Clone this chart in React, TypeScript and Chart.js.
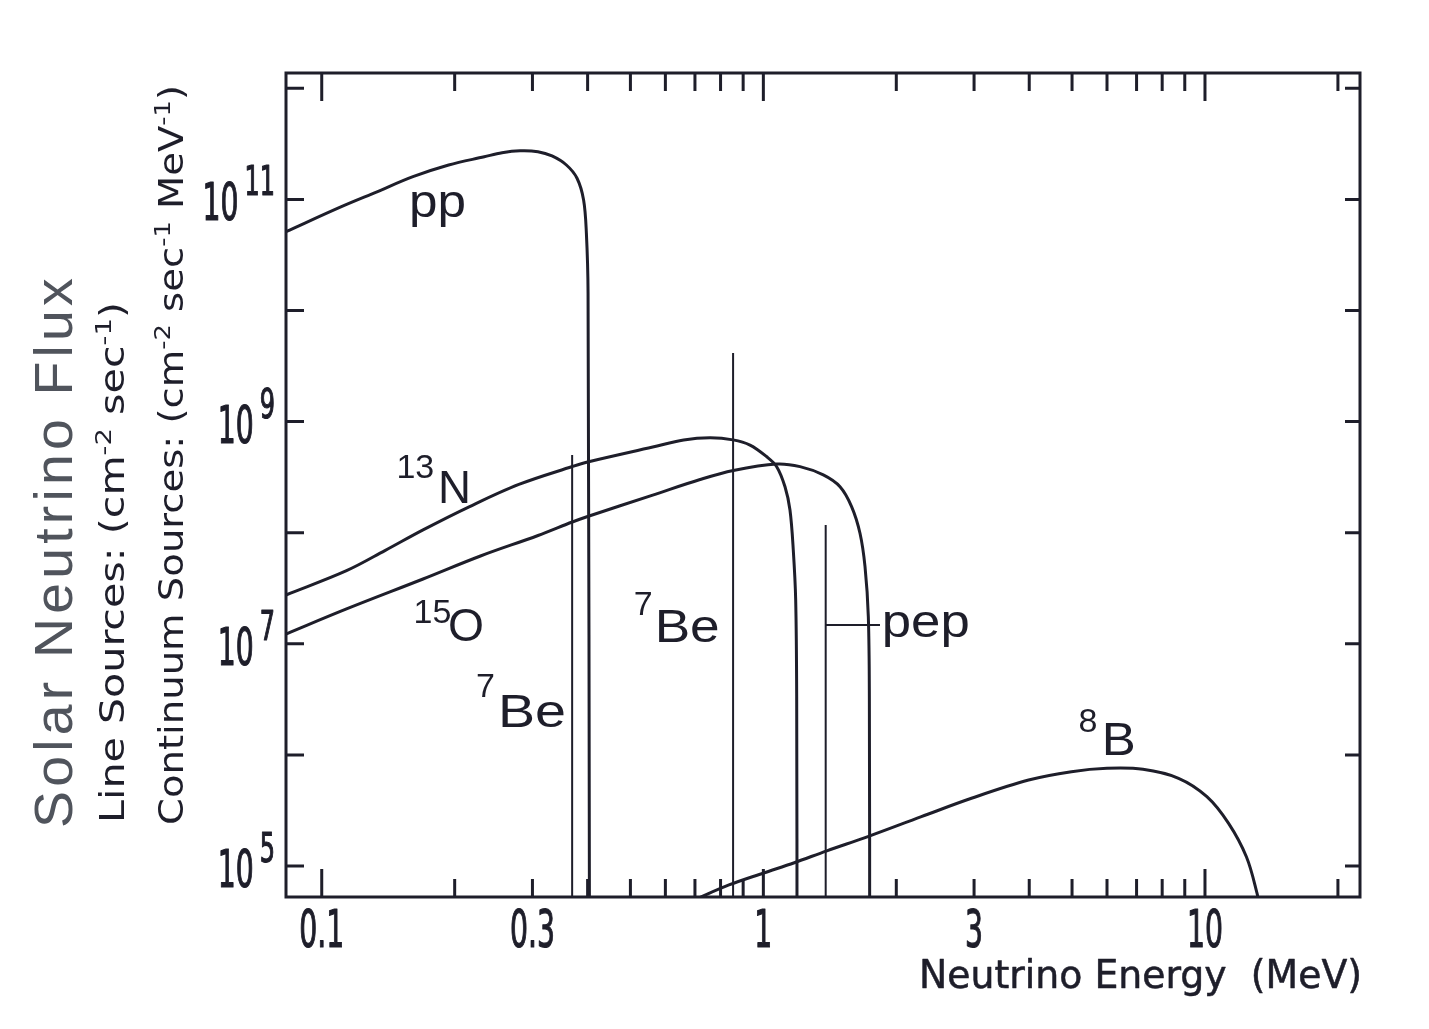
import { useEffect, useRef } from 'react';
import { Chart, registerables } from 'chart.js';

Chart.register(...registerables);

// ---------- axis ranges ----------
const X_MIN = 0.083;
const X_MAX = 22.44;
const Y_MIN = 5.26e4;
const Y_MAX = 1.373e12;

// ---------- continuum spectra (MeV, flux) ----------
const ppEnergy = [0.083, 0.1108, 0.1334, 0.1609, 0.1938, 0.2334, 0.256, 0.2812, 0.3087, 0.3322, 0.3581, 0.3785, 0.3917, 0.3974, 0.4009, 0.404];
const ppFlux = [5.12e10, 8.6e10, 1.17e11, 1.6e11, 2.04e11, 2.42e11, 2.63e11, 2.74e11, 2.69e11, 2.46e11, 2.04e11, 1.55e11, 9.88e10, 4.99e10, 1.44e10, 1e4];

const n13Energy = [0.083, 0.1138, 0.139, 0.1696, 0.2156, 0.2795, 0.3693, 0.4, 0.5617, 0.66, 0.757, 0.8538, 0.9328, 1.0176, 1.072, 1.1195, 1.1489, 1.1689, 1.1836, 1.1898, 1.192];
const n13Flux = [2.75e7, 4.55e7, 6.9e7, 1.06e8, 1.71e8, 2.72e8, 3.94e8, 4.33e8, 5.9e8, 6.83e8, 7.15e8, 6.85e8, 6.15e8, 4.83e8, 3.93e8, 2.59e8, 1.6e8, 6.98e7, 2.48e7, 3.12e6, 1e4];

const o15Energy = [0.083, 0.1138, 0.1696, 0.2288, 0.3089, 0.3693, 0.4, 0.5617, 0.719, 0.8551, 1.072, 1.2106, 1.3669, 1.4914, 1.5849, 1.6551, 1.699, 1.7286, 1.738, 1.741];
const o15Flux = [1.225e7, 2.06e7, 3.83e7, 6.17e7, 9.44e7, 1.248e8, 1.4e8, 2.18e8, 3.01e8, 3.63e8, 4.15e8, 3.93e8, 3.31e8, 2.59e8, 1.71e8, 9.88e7, 4.94e7, 1.75e7, 3.12e6, 1e4];

const b8Energy = [0.6822, 0.7137, 0.8359, 1.0018, 1.1751, 1.3922, 1.725, 2.2793, 2.9596, 3.9866, 4.9831, 5.999, 7.236, 8.713, 10.1, 11.31, 12.41, 13.12, 13.25];
const b8Flux = [4.74e4, 5.15e4, 6.75e4, 8.65e4, 1.07e5, 1.37e5, 1.84e5, 2.78e5, 4.07e5, 5.94e5, 7.06e5, 7.57e5, 7.42e5, 6.16e5, 4.21e5, 2.42e5, 1.21e5, 5.68e4, 4.46e4];

// ---------- line sources ----------
const lineSourceNames = ['7Be (0.38)', '7Be (0.86)', 'pep'];
const lineSourceEnergy = [0.369, 0.854, 1.384];
const lineSourceFlux = [5.0e8, 4.14e9, 1.17e8];

const pepLeaderEnergy = [1.384, 1.837];
const pepLeaderFlux = [1.476e7, 1.476e7];

// ---------- ticks ----------
const xTickValues = [0.1, 0.2, 0.3, 0.4, 0.5, 0.6, 0.7, 0.8, 0.9, 1, 2, 3, 4, 5, 6, 7, 8, 9, 10, 20];
const xMajorValues = [0.1, 1, 10];
const xLabelValues = [0.1, 0.3, 1, 3, 10];
const xLabelTexts = ['0.1', '0.3', '1', '3', '10'];
const yTickValues = [1e5, 1e6, 1e7, 1e8, 1e9, 1e10, 1e11, 1e12];
const yLabelValues = [1e11, 1e9, 1e7, 1e5];
const yLabelExponents = ['11', '9', '7', '5'];

// ---------- curve labels (anchored in data coordinates) ----------
const labelMain = ['pp', 'N', 'O', 'Be', 'Be', 'pep', 'B'];
const labelSup = ['', '13', '15', '7', '7', '', '8'];
const labelMainE = [0.1577, 0.1834, 0.1932, 0.5673, 0.2507, 1.8535, 5.84];
const labelMainF = [6.98e10, 1.85e8, 1.06e7, 1.04e7, 1.78e6, 1.16e7, 9.98e5];
const labelSupE = [0, 0.1476, 0.1614, 0.5085, 0.2236, 0, 5.174];
const labelSupF = [0, 3.11e8, 1.54e7, 1.82e7, 3.32e6, 0, 1.62e6];
const labelMainWidth = [57, 33, 36, 65, 68, 88, 34];

const INK = '#1e1e2a';
const AXIS_FONT = '"DejaVu Sans Condensed", "DejaVu Sans", sans-serif';
const LABEL_FONT = '"Liberation Sans", Arial, sans-serif';

function pts(xs: number[], ys: number[]) {
  return xs.map((x, i) => ({ x, y: ys[i] }));
}

type Seg = { t: string; sup?: boolean };

function drawRotatedRich(
  ctx: CanvasRenderingContext2D,
  segs: Seg[],
  x: number,
  y: number,
  len: number,
  mainPx: number,
  supPx: number,
  rise: number,
  family: string,
  color: string,
  spacing = '0px'
) {
  ctx.save();
  (ctx as any).letterSpacing = spacing;
  const mainF = `${mainPx}px ${family}`;
  const supF = `${supPx}px ${family}`;
  let total = 0;
  const widths = segs.map((s) => {
    ctx.font = s.sup ? supF : mainF;
    const w = ctx.measureText(s.t).width;
    total += w;
    return w;
  });
  const sx = len / total;
  ctx.translate(x, y);
  ctx.rotate(-Math.PI / 2);
  ctx.scale(sx, 1);
  ctx.fillStyle = color;
  ctx.textAlign = 'left';
  ctx.textBaseline = 'alphabetic';
  let cx = 0;
  segs.forEach((s, i) => {
    ctx.font = s.sup ? supF : mainF;
    ctx.fillText(s.t, cx, s.sup ? -rise : 0);
    cx += widths[i];
  });
  ctx.restore();
}

function inkText(ctx: CanvasRenderingContext2D, t: string, x: number, y: number, sx: number, align: CanvasTextAlign, stroke: number) {
  ctx.save();
  ctx.translate(x, y);
  ctx.scale(sx, 1);
  ctx.textAlign = align;
  ctx.fillText(t, 0, 0);
  if (stroke > 0) {
    ctx.lineWidth = stroke;
    ctx.lineJoin = 'round';
    ctx.strokeText(t, 0, 0);
  }
  ctx.restore();
}

const inkPlugin = {
  id: 'ink',
  beforeDraw(chart: any) {
    const { ctx, width, height } = chart;
    ctx.save();
    ctx.fillStyle = '#ffffff';
    ctx.fillRect(0, 0, width, height);
    ctx.restore();
  },
  afterDatasetsDraw(chart: any) {
    const { ctx, chartArea: a } = chart;
    const xs = chart.scales.x;
    const ys = chart.scales.y;
    ctx.save();
    ctx.strokeStyle = INK;
    ctx.lineWidth = 3;
    ctx.lineCap = 'butt';
    ctx.strokeRect(a.left, a.top, a.right - a.left, a.bottom - a.top);
    ctx.beginPath();
    xTickValues.forEach((v) => {
      const px = xs.getPixelForValue(v);
      const len = xMajorValues.includes(v) ? 28 : 18;
      ctx.moveTo(px, a.bottom);
      ctx.lineTo(px, a.bottom - len);
      ctx.moveTo(px, a.top);
      ctx.lineTo(px, a.top + len);
    });
    yTickValues.forEach((v) => {
      const py = ys.getPixelForValue(v);
      ctx.moveTo(a.left, py);
      ctx.lineTo(a.left + 18, py);
      ctx.moveTo(a.right, py);
      ctx.lineTo(a.right - 15, py);
    });
    ctx.stroke();
    ctx.restore();
  },
  afterDraw(chart: any) {
    const { ctx, chartArea: a } = chart;
    const xs = chart.scales.x;
    const ys = chart.scales.y;
    ctx.save();
    ctx.fillStyle = INK;
    ctx.strokeStyle = INK;
    ctx.textBaseline = 'alphabetic';

    // x tick labels
    ctx.font = `52px ${AXIS_FONT}`;
    const sxTick = 36 / ctx.measureText('10').width;
    xLabelValues.forEach((v, i) => {
      const px = xs.getPixelForValue(v);
      inkText(ctx, xLabelTexts[i], px, a.bottom + 50, sxTick, 'center', 1.2);
    });

    // y tick labels 10^n
    yLabelValues.forEach((v, i) => {
      const py = ys.getPixelForValue(v);
      const base = py + 21;
      const right = a.left - 11;
      ctx.font = `40px ${AXIS_FONT}`;
      const supSx = sxTick * 1.1;
      const supW = ctx.measureText(yLabelExponents[i]).width * supSx;
      inkText(ctx, yLabelExponents[i], right, base - 25, supSx, 'right', 1.2);
      ctx.font = `52px ${AXIS_FONT}`;
      inkText(ctx, '10', right - supW - 6, base, sxTick, 'right', 1.2);
    });

    // x axis title
    ctx.font = `39px ${AXIS_FONT}`;
    const xt = 'Neutrino Energy  (MeV)';
    const sxTitle = 443 / ctx.measureText(xt).width;
    inkText(ctx, xt, a.right + 2, a.bottom + 91, sxTitle, 'right', 0.5);

    // y axis titles
    drawRotatedRich(ctx, [{ t: 'Solar Neutrino Flux' }], 72, 828, 554, 53, 30, 0, LABEL_FONT, '#50545c', '4px');
    drawRotatedRich(
      ctx,
      [{ t: 'Line Sources: (cm' }, { t: '-2', sup: true }, { t: ' sec' }, { t: '-1', sup: true }, { t: ')' }],
      124, 823, 521, 33, 22, 13, AXIS_FONT, INK
    );
    drawRotatedRich(
      ctx,
      [
        { t: 'Continuum Sources: (cm' },
        { t: '-2', sup: true },
        { t: ' sec' },
        { t: '-1', sup: true },
        { t: ' MeV' },
        { t: '-1', sup: true },
        { t: ')' },
      ],
      183, 825, 740, 33, 22, 13, AXIS_FONT, INK
    );

    // curve labels
    labelMain.forEach((m, i) => {
      const mx = xs.getPixelForValue(labelMainE[i]);
      const my = ys.getPixelForValue(labelMainF[i]);
      ctx.font = `46px ${LABEL_FONT}`;
      const sx = labelMainWidth[i] / ctx.measureText(m).width;
      inkText(ctx, m, mx, my, sx, 'left', 0);
      if (labelSup[i]) {
        const sxp = xs.getPixelForValue(labelSupE[i]);
        const syp = ys.getPixelForValue(labelSupF[i]);
        ctx.font = `34px ${LABEL_FONT}`;
        inkText(ctx, labelSup[i], sxp, syp, 1, 'left', 0);
      }
    });
    ctx.restore();
  },
};

export default function App() {
  const ref = useRef<HTMLCanvasElement | null>(null);

  useEffect(() => {
    if (!ref.current) return;
    const curve = (label: string, data: { x: number; y: number }[]) => ({
      label,
      data,
      showLine: true,
      borderColor: INK,
      borderWidth: 3,
      pointRadius: 0,
      fill: false,
      tension: 0.35,
    });
    const straight = (label: string, data: { x: number; y: number }[]) => ({
      label,
      data,
      showLine: true,
      borderColor: INK,
      borderWidth: 2,
      pointRadius: 0,
      fill: false,
      tension: 0,
    });
    const datasets: any[] = [
      curve('pp', pts(ppEnergy, ppFlux)),
      curve('13N', pts(n13Energy, n13Flux)),
      curve('15O', pts(o15Energy, o15Flux)),
      curve('8B', pts(b8Energy, b8Flux)),
      ...lineSourceEnergy.map((e, i) =>
        straight(lineSourceNames[i], [
          { x: e, y: lineSourceFlux[i] },
          { x: e, y: Y_MIN / 2 },
        ])
      ),
      straight('pep leader', pts(pepLeaderEnergy, pepLeaderFlux)),
    ];

    const chart = new Chart(ref.current, {
      type: 'scatter',
      data: { datasets },
      options: {
        responsive: false,
        animation: false,
        devicePixelRatio: 1,
        layout: { padding: { top: 73, right: 69, bottom: 0, left: 0 }, autoPadding: false },
        plugins: {
          legend: { display: false },
          tooltip: { enabled: false },
          title: { display: false },
        },
        scales: {
          x: {
            type: 'logarithmic',
            position: 'bottom',
            min: X_MIN,
            max: X_MAX,
            ticks: { display: false },
            grid: { display: false },
            border: { display: false },
            afterFit: (s: any) => {
              s.height = 132;
            },
          },
          y: {
            type: 'logarithmic',
            position: 'left',
            min: Y_MIN,
            max: Y_MAX,
            ticks: { display: false },
            grid: { display: false },
            border: { display: false },
            afterFit: (s: any) => {
              s.width = 286;
            },
          },
        },
      } as any,
      plugins: [inkPlugin],
    });
    return () => chart.destroy();
  }, []);

  return (
    <div style={{ position: 'absolute', left: 0, top: 0, width: 1429, height: 1029, background: '#fff' }}>
      <canvas ref={ref} width={1429} height={1029} style={{ display: 'block' }} />
    </div>
  );
}
